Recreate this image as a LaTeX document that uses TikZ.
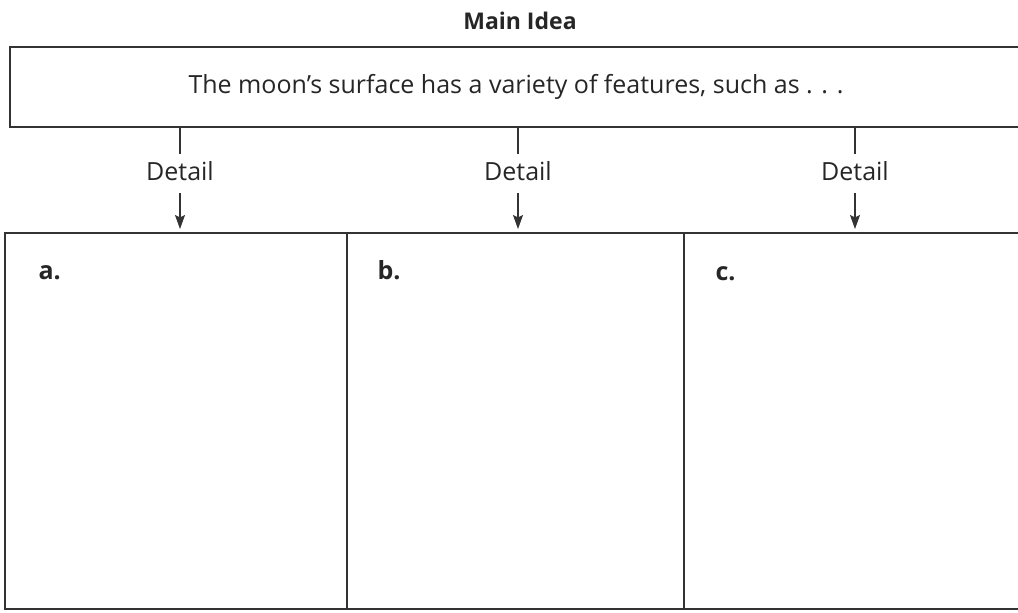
\documentclass[tikz,border=0pt]{standalone}
\usepackage{fontspec}
\setmainfont{Open Sans}
\usetikzlibrary{arrows.meta,positioning}

\begin{document}
\begin{tikzpicture}[x=1pt, y=-1pt, >={Stealth[length=14pt, width=10pt, inset=2.5pt]},
  box/.style={draw=black!80, line width=1.3pt, inner sep=0pt, outer sep=0pt},
  lbl/.style={font=\fontsize{25}{30}\selectfont, text=black!85, inner xsep=4pt, inner ysep=7pt},
  tag/.style={font=\bfseries\fontsize{25}{30}\selectfont, text=black!85, anchor=base west},
  conn/.style={draw=black!80, line width=1.1pt}]
\clip (0,0) rectangle (1018,613);
% main idea
\node[font=\bfseries\fontsize{23}{28}\selectfont, text=black!85] (title) at (520,21) {Main Idea};
\node[box, anchor=north west, minimum width=1012pt, minimum height=80pt,
  font=\fontsize{25}{30}\selectfont, text=black!85] (idea) at (10,47)
  {The moon’s surface has a variety of features, such as . . .};
% detail boxes
\node[box, anchor=north west, minimum width=342pt, minimum height=376pt] (ba) at (5,233) {};
\node[box, anchor=west, minimum width=337pt, minimum height=376pt, right=0pt of ba] (bb) {};
\node[box, anchor=west, minimum width=338pt, minimum height=376pt, right=0pt of bb] (bc) {};
\node[tag] (la) at ([xshift=30pt, yshift=-46pt]ba.north west) {a.};
\node[tag] (lb) at ([xshift=27pt, yshift=-46pt]bb.north west) {b.};
\node[tag] (lc) at ([xshift=28pt, yshift=-47pt]bc.north west) {c.};
% detail labels and arrows
\foreach \n/\x/\b in {1/180/ba, 2/518/bb, 3/855/bc}{
  \node[lbl] (d\n) at (\x,171) {Detail};
  \draw[conn] (idea.south -| d\n.north) -- (d\n.north);
  \draw[conn,->,shorten <=5pt, shorten >=4pt] (d\n.south) -- (d\n.south |- \b.north);
}
\end{tikzpicture}
\end{document}
